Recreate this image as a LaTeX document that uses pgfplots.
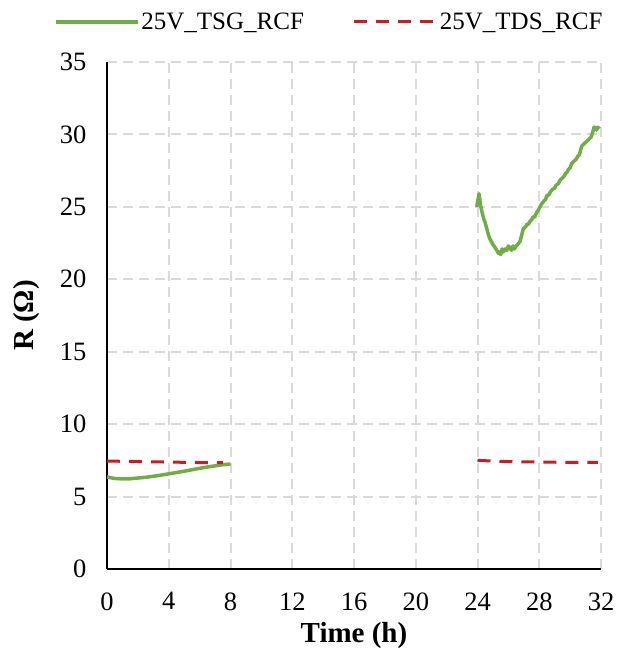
\documentclass[border=0pt]{standalone}
\usepackage{pgfplots}
\pgfplotsset{compat=1.18}
\usepackage{fontspec}
\setmainfont{Liberation Serif}
\definecolor{cgreen}{RGB}{112,173,71}
\definecolor{cred}{RGB}{200,30,35}
\definecolor{cgrid}{RGB}{217,217,217}
\begin{document}
\begin{tikzpicture}
\begin{axis}[
  scale only axis,
  width=494pt, height=507pt,
  xmin=0, xmax=32, ymin=0, ymax=35,
  xtick={0,4,...,32}, ytick={0,5,...,35},
  axis x line*=bottom, axis y line*=left,
  axis line style={black, line width=1.8pt, -},
  major tick length=0pt,
  grid=major,
  major grid style={cgrid, line width=2pt, dash pattern=on 10pt off 6pt},
  /pgf/number format/assume math mode=true,
  tick label style={font=\fontsize{26.5}{30}\selectfont},
  xticklabel style={yshift=-20pt},
  yticklabel style={xshift=-17pt},
  xlabel={\textbf{Time (h)}},
  ylabel={\textbf{R (Ω)}},
  label style={font=\fontsize{29}{34}\selectfont},
  xlabel style={at={(axis description cs:0.5,-0.132)}, anchor=center},
  ylabel style={at={(axis description cs:-0.163,0.5)}, anchor=center},
  legend columns=2,
  legend style={draw=none, fill=none, at={(-0.114,1.079)}, anchor=west,
    font=\fontsize{25}{30}\selectfont,
    /tikz/every even column/.append style={column sep=47pt}},
  legend image code/.code={\draw[#1] (0pt,0pt) -- (82pt,0pt);},
]
\addplot[cgreen, line width=3.5pt, line join=round] coordinates {
(0,6.35) (0.5,6.25) (1,6.22) (1.5,6.23) (2,6.28) (2.5,6.33) (3,6.4) (3.5,6.48)
(4,6.57) (4.5,6.66) (5,6.75) (5.5,6.85) (6,6.95) (6.5,7.04) (7,7.12) (7.5,7.2) (8,7.25)
};
\addlegendentry{25V\_TSG\_RCF}
\addplot[cred, line width=3pt, dash pattern=on 13pt off 9pt] coordinates {
(0,7.45) (2,7.42) (4,7.38) (6,7.35) (7.5,7.34)
};
\addlegendentry{25V\_TDS\_RCF}
\addplot[cgreen, line width=3.5pt, line join=round, forget plot] coordinates {
(23.95,25.0) (24.05,25.6) (24.1,25.9) (24.15,25.5) (24.2,25.1) (24.3,24.6) (24.4,24.2)
(24.5,23.9) (24.6,23.5) (24.7,23.1) (24.8,22.8) (24.9,22.6) (25.0,22.4) (25.13,22.2)
(25.25,22.0) (25.35,21.8) (25.45,21.9) (25.5,21.7) (25.6,22.1) (25.7,21.9) (25.8,22.1)
(25.9,22.0) (26.0,22.3) (26.1,22.2) (26.2,22.0) (26.3,22.3) (26.4,22.1) (26.5,22.3)
(26.6,22.4) (26.75,22.6) (26.85,23.0) (26.97,23.5) (27.1,23.6) (27.2,23.8) (27.3,23.8)
(27.4,24.0) (27.5,24.1) (27.6,24.3) (27.7,24.3) (27.83,24.6) (27.95,24.8) (28.05,25.0)
(28.15,25.2) (28.3,25.4) (28.4,25.5) (28.5,25.8) (28.6,25.8) (28.7,26.0) (28.85,26.2)
(29.0,26.3) (29.1,26.5) (29.24,26.6) (29.35,26.85) (29.5,27.0) (29.6,27.1) (29.7,27.3)
(29.8,27.4) (29.9,27.6) (30.0,27.7) (30.1,28.0) (30.2,28.1) (30.3,28.2) (30.4,28.3)
(30.5,28.5) (30.6,28.6) (30.7,29.0) (30.75,29.2) (30.85,29.3) (30.95,29.4) (31.05,29.5)
(31.15,29.6) (31.25,29.7) (31.35,29.8) (31.45,30.1) (31.55,30.5) (31.6,30.5) (31.7,30.3)
(31.8,30.5) (31.9,30.4)
};
\addplot[cred, line width=3pt, dash pattern=on 13pt off 9pt, forget plot] coordinates {
(24,7.5) (25,7.45) (26,7.42) (28,7.38) (30,7.36) (31.8,7.36)
};
\end{axis}
\pgfresetboundingbox
\path (current axis.south west) ++(-107pt,-86pt) rectangle ++(634pt,655pt);
\end{tikzpicture}
\end{document}
